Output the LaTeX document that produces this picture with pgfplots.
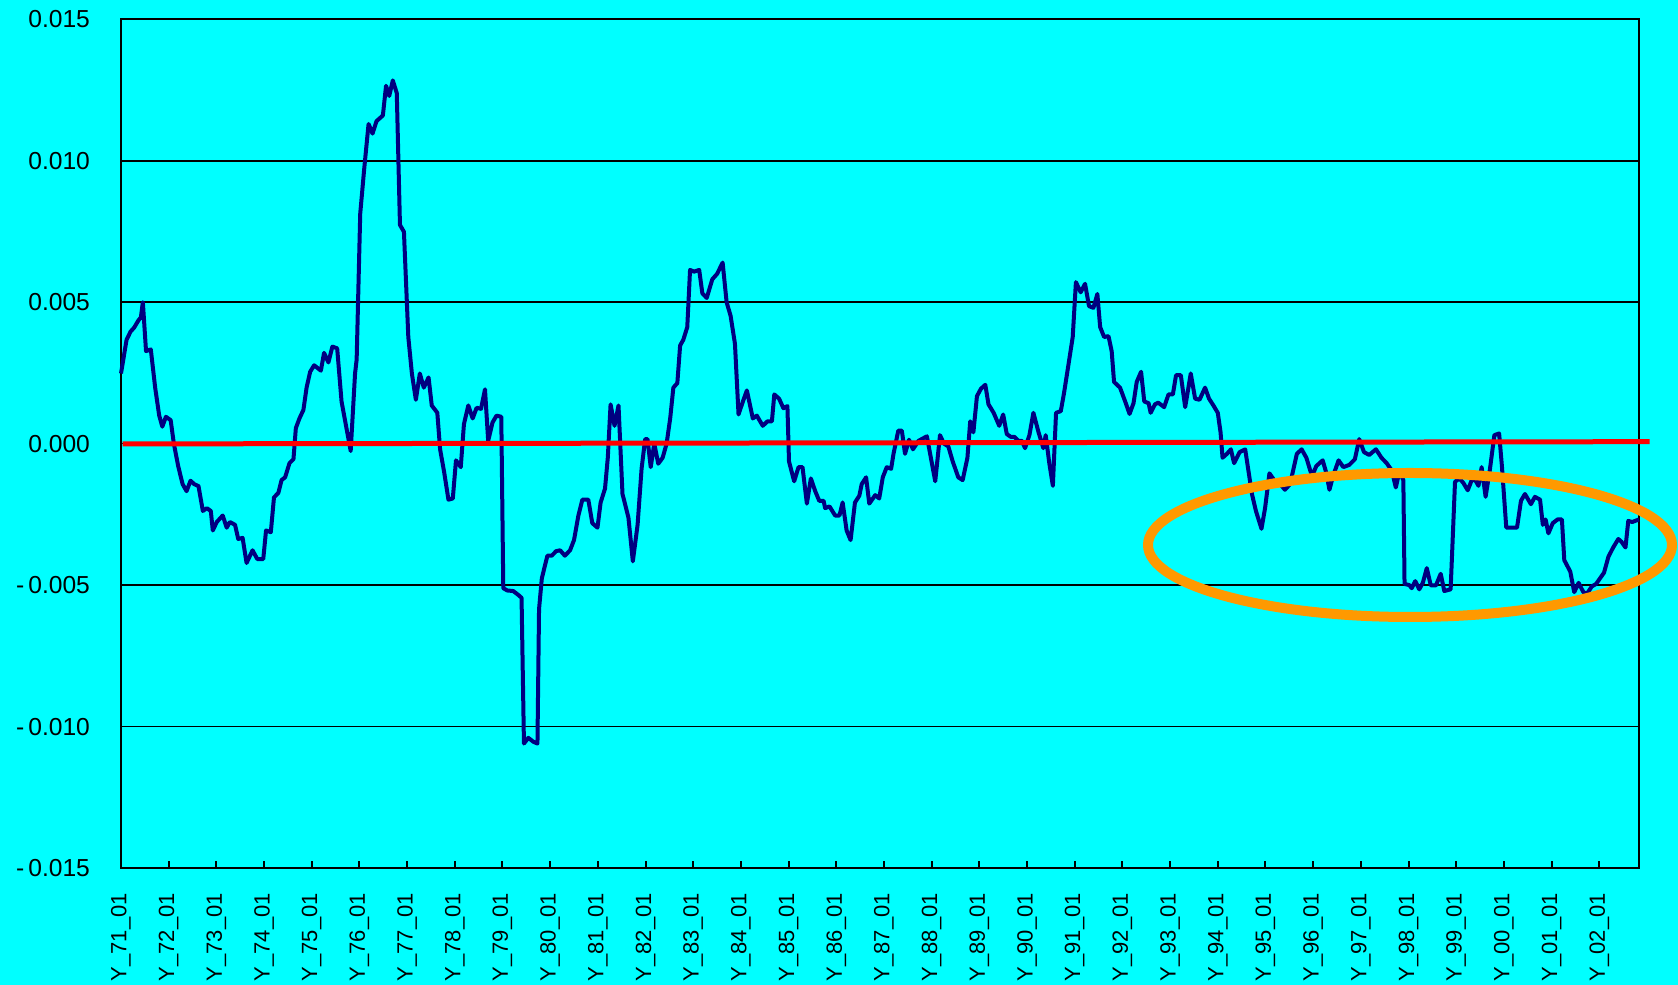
\documentclass[border=0pt]{standalone}
\usepackage{pgfplots}
\pgfplotsset{compat=1.18}
\usepackage{fontspec}
\setmainfont{Liberation Sans}
\definecolor{bgcyan}{RGB}{0,255,255}
\definecolor{navyline}{RGB}{0,0,128}
\definecolor{ringorange}{RGB}{255,153,0}
\definecolor{zerored}{RGB}{255,0,0}
\begin{document}
\begin{tikzpicture}
\fill[bgcyan] (-60.5pt,-58.5pt) rectangle (778.5pt,434pt);
\begin{axis}[
  at={(0,0)}, anchor=south west,
  scale only axis, width=759pt, height=424.35pt,
  xmin=0, xmax=382, ymin=-0.015, ymax=0.015,
  axis background/.style={fill=bgcyan},
  axis line style={line width=1pt, black},
  ymajorgrids, grid style={black, line width=0.85pt},
  ytick={-0.015,-0.010,-0.005,0,0.005,0.010,0.015},
  yticklabels={-\,0.015,-\,0.010,-\,0.005,0.000,0.005,0.010,0.015},
  scaled y ticks=false,
  ytick style={draw=none},
  ytick pos=left,
  xtick={0,12,...,372},
  xticklabels={Y\_71\_01,Y\_72\_01,Y\_73\_01,Y\_74\_01,Y\_75\_01,Y\_76\_01,Y\_77\_01,Y\_78\_01,Y\_79\_01,Y\_80\_01,Y\_81\_01,Y\_82\_01,Y\_83\_01,Y\_84\_01,Y\_85\_01,Y\_86\_01,Y\_87\_01,Y\_88\_01,Y\_89\_01,Y\_90\_01,Y\_91\_01,Y\_92\_01,Y\_93\_01,Y\_94\_01,Y\_95\_01,Y\_96\_01,Y\_97\_01,Y\_98\_01,Y\_99\_01,Y\_00\_01,Y\_01\_01,Y\_02\_01},
  xtick pos=left,
  xtick align=inside,
  major tick length=3.5pt,
  xtick style={black, line width=1pt},
  xticklabel style={rotate=90, anchor=east, font=\fontsize{11}{12}\selectfont},
  yticklabel style={font=\fontsize{12.3}{14}\selectfont},
  xticklabel shift=9pt,
  yticklabel shift=12pt,
  clip=false,
]
\addplot[navyline, line width=2pt, line join=round, mark=none] coordinates {
(0,0.00248) (1.4,0.00367) (2.4,0.00396) (3.3,0.0041) (4.4,0.00436) (5,0.00446) (5.5,0.005) (6.3,0.00327) (7.5,0.00333) (8.6,0.00198) (9.6,0.001) (10.4,0.0006) (11.3,0.00095) (12.5,0.00083) (13.3,0) (14.4,-0.0008) (15.5,-0.00143) (16.5,-0.00168) (17.5,-0.00131) (18.4,-0.00143) (19.5,-0.0015) (20.6,-0.00238) (21.6,-0.00228) (22.6,-0.00238) (23.1,-0.00307) (24.1,-0.00277) (25.6,-0.00254) (26.6,-0.00297) (27.4,-0.00277) (28.7,-0.00287) (29.5,-0.00337) (30.6,-0.00333) (31.6,-0.00422) (33.1,-0.00377) (34.3,-0.00408) (35.8,-0.00408) (36.5,-0.00307) (37.7,-0.00313) (38.5,-0.0019) (39.6,-0.00174) (40.4,-0.00129) (41.3,-0.00119) (42.4,-0.00069) (43.4,-0.00055) (44,0.00055) (44.9,0.00089) (45.9,0.00119) (46.7,0.00198) (47.6,0.00254) (48.6,0.00277) (50.3,0.00258) (51.1,0.00321) (52.2,0.00287) (53.2,0.00343) (54.4,0.00337) (55.5,0.00149) (56.8,0.0005) (57.8,-0.00026) (58.9,0.00248) (59.3,0.00297) (60.2,0.00813) (61.2,0.00971) (62.3,0.0113) (63.3,0.01096) (64.3,0.0114)
(65.9,0.0116) (66.7,0.01265) (67.5,0.01229) (68.4,0.01284) (69.4,0.01239) (70.2,0.00773) (71.2,0.00749) (72.3,0.00377) (73.2,0.00248) (74.2,0.00155) (75.2,0.00248) (76.2,0.00198) (77.4,0.00234) (78.2,0.00135) (79.6,0.00109) (80.3,-0.0002) (81.3,-0.00099) (82.4,-0.00198) (83.5,-0.00194) (84.3,-0.00059) (85.5,-0.00083) (86.3,0.00069) (87.4,0.00135) (88.5,0.00089) (89.5,0.00127) (90.6,0.00123) (91.6,0.00192) (92.4,0.0001) (93.5,0.00075) (94.5,0.00099) (95.7,0.00095) (96.2,-0.00511) (97.2,-0.00519) (98.7,-0.00521) (100,-0.00535) (100.8,-0.00545) (101.4,-0.0106) (102.5,-0.0104) (103.8,-0.01054) (104.8,-0.0106) (105.2,-0.00585) (105.9,-0.00476) (107.3,-0.00396) (108.4,-0.00396) (109.5,-0.0038) (110.5,-0.00377) (111.7,-0.00396) (113,-0.00377) (114,-0.00341) (115.1,-0.00254) (116.1,-0.00198) (117.6,-0.00198) (118.6,-0.00281) (119.9,-0.00297) (120.7,-0.00208) (121.8,-0.00159) (122.5,-0.0005) (123.2,0.00139) (124.2,0.00063) (125.2,0.00135) (126.2,-0.00178) (127.7,-0.00262) (128.8,-0.00416)
(130,-0.00287) (131,-0.00089) (131.9,0.00016) (132.5,0.00016) (133.3,-0.00083) (134.2,0) (135.2,-0.00071) (136.3,-0.0005) (137.3,0) (138.2,0.00089) (139,0.00198) (140,0.00214) (140.7,0.00347) (141.5,0.00367) (142.5,0.00412) (143.2,0.00614) (144.2,0.00608) (145.5,0.00614) (146.3,0.00531) (147.4,0.00515) (148.8,0.00581) (150,0.006) (151.4,0.0064) (152.4,0.005) (153.4,0.00452) (154.5,0.00353) (155.4,0.00103) (156.5,0.00149) (157.5,0.00188) (159,0.00089) (160,0.00099) (161.5,0.00063) (162.7,0.00079) (163.8,0.00079) (164.4,0.00174) (165.6,0.00159) (166.7,0.00125) (167.7,0.00133) (168.1,-0.00063) (169.4,-0.00133) (170.5,-0.00083) (171.5,-0.00083) (172.6,-0.00212) (173.6,-0.00123) (174.7,-0.00168) (175.7,-0.00202) (176.8,-0.00202) (177.2,-0.00228) (178.3,-0.00222) (179.7,-0.00254) (180.8,-0.00254) (181.6,-0.00208) (182.6,-0.00307) (183.6,-0.00341) (184.7,-0.00208) (185.8,-0.00184) (186.4,-0.00143) (187.5,-0.00119) (188.3,-0.00212) (189.8,-0.00182) (190.8,-0.00194) (191.7,-0.00119) (192.7,-0.00083) (193.8,-0.00089)
(194.4,-0.00036) (195.6,0.00046) (196.5,0.00046) (197.3,-0.00036) (198.3,0.00014) (199.3,-0.0002) (200.7,0.0001) (202.8,0.00026) (203.8,-0.0005) (204.9,-0.00133) (206.1,0.0003) (207.1,0) (208.2,-0.0001) (209.3,-0.00063) (210.7,-0.00119) (211.8,-0.00129) (213,-0.0005) (213.7,0.00079) (214.5,0.0004) (215.4,0.00168) (216.4,0.00194) (217.5,0.00208) (218.3,0.00139) (219.6,0.00109) (221,0.00063) (222,0.00103) (222.9,0.00034) (223.9,0.00024) (224.8,0.00024) (225.8,0.0001) (226.7,0.0001) (227.5,-0.00016) (228.6,0.0003) (229.6,0.00109) (230.9,0.0004) (232.1,-0.00016) (232.7,0.0003) (233.6,-0.00069) (234.5,-0.00149) (235.3,0.00109) (236.5,0.00115) (237.3,0.00178) (238.4,0.00277) (239.5,0.00377) (240.3,0.00571) (241.5,0.00535) (242.6,0.00565) (243.6,0.00486) (244.7,0.0048) (245.7,0.00529) (246.4,0.00412) (247.4,0.00377) (248.5,0.0038) (249.3,0.00327) (249.9,0.00218) (251.4,0.00198) (252.7,0.00149) (253.8,0.00105) (254.8,0.00143) (255.6,0.00218) (256.7,0.00254) (257.5,0.00149) (258.6,0.00143) (259.1,0.00109) (260.2,0.00139)
(261,0.00145) (262.5,0.00129) (263.6,0.00174) (264.7,0.00174) (265.5,0.00242) (266.7,0.00242) (267.8,0.00129) (269.2,0.00248) (270.3,0.00159) (271.4,0.00155) (272.8,0.00198) (273.8,0.00159) (274.9,0.00135) (276,0.00109) (276.7,0.0004) (277.2,-0.0005) (278.3,-0.00036) (279.3,-0.0002) (280.1,-0.00069) (281.5,-0.0003) (282.9,-0.0002) (284.6,-0.00178) (285.6,-0.00238) (287,-0.00301) (287.9,-0.00228) (289,-0.00105) (290.2,-0.00129) (291.7,-0.00143) (292.9,-0.00163) (294.2,-0.00143) (295.9,-0.00036) (297.1,-0.0002) (298.3,-0.0005) (299.7,-0.00115) (300.8,-0.00079) (302.4,-0.00059) (303.3,-0.00103) (304.1,-0.00163) (305,-0.00115) (306.4,-0.00059) (307.6,-0.00083) (309.1,-0.00075) (310.5,-0.00055) (311.6,0.00016) (312.8,-0.0003) (314.1,-0.0004) (315.8,-0.0002) (317.2,-0.0005) (318.5,-0.00069) (319.8,-0.00095) (320.8,-0.00155) (321.7,-0.00099) (322.7,-0.00129) (323,-0.00496) (324.2,-0.005) (324.8,-0.00511) (325.7,-0.00486) (326.7,-0.00515) (327.6,-0.00492) (328.6,-0.0044) (329.6,-0.00501) (330.9,-0.00501) (332.1,-0.0046) (333,-0.00521) (334.6,-0.00515) (335.7,-0.00135) (336.8,-0.00123) (337.8,-0.00139) (338.9,-0.00165) (339.9,-0.00129) (340.8,-0.00129) (341.6,-0.00149) (342.4,-0.00083) (343.4,-0.00188) (344.5,-0.00089) (345.6,0.0003) (346.8,0.00036) (347.5,-0.00079) (348.6,-0.00297) (351.3,-0.00297) (352.3,-0.00202) (353.3,-0.00178) (354.8,-0.00214) (355.8,-0.00188) (357.1,-0.00198) (357.8,-0.00287) (358.5,-0.00268) (359.2,-0.00317) (360.3,-0.00281) (361.5,-0.00268) (362.6,-0.00268) (363.2,-0.00412) (364.7,-0.00452) (365.7,-0.00525) (366.8,-0.00492) (368,-0.00525) (368.9,-0.00531) (370.1,-0.00505) (371.2,-0.00496) (372.2,-0.00476) (373.2,-0.00456) (374.3,-0.004) (375.5,-0.00367) (376.8,-0.00337) (377.6,-0.00347) (378.6,-0.00367) (379.3,-0.00273) (380.3,-0.00277) (382,-0.00268)
};
\addplot[zerored, line width=2.5pt, mark=none] coordinates {(0.4,-0.00001) (384.7,0.00007)};
\end{axis}
\draw[ringorange, line width=5pt] (644.5pt,161.5pt) ellipse [x radius=131pt, y radius=36pt];
\pgfresetboundingbox
\useasboundingbox (-60.5pt,-58.5pt) rectangle (778.5pt,434pt);
\end{tikzpicture}
\end{document}
